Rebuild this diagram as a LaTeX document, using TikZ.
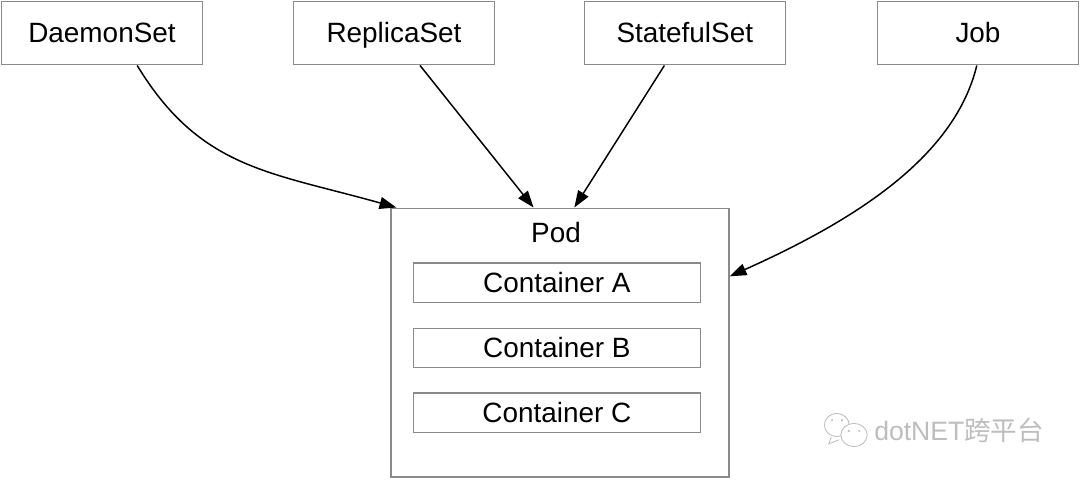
\documentclass[tikz,border=0pt]{standalone}
\usepackage{fontspec}
\setmainfont{Liberation Sans}
\newfontfamily\cjkfont{Noto Sans CJK SC}
\usepackage{xcolor}
\usetikzlibrary{arrows.meta, positioning, calc}
\definecolor{boxgray}{HTML}{8A8A8A}
\definecolor{markgray}{HTML}{BDBDBD}
\tikzset{
  ctrlbox/.style={draw=boxgray, line width=0.95pt, minimum width=5.02cm, minimum height=1.59cm},
  podbox/.style={draw=boxgray, line width=0.95pt, minimum width=8.45cm, minimum height=6.72cm},
  contbox/.style={draw=boxgray, line width=0.95pt, minimum width=7.17cm, minimum height=0.98cm},
  link/.style={-{Triangle[length=0.42cm, width=0.3cm]}, line width=1.05pt, black}
}

\begin{document}
\begin{tikzpicture}[every node/.style={font=\fontsize{19.85}{23}\selectfont, inner sep=0pt,
    text height=18pt, text depth=4pt}]

\useasboundingbox (0,0) rectangle (27,11.975);

%% Controllers
\foreach \nm/\lab/\x in {daemonset/DaemonSet/2.55, replicaset/ReplicaSet/9.85,
                         statefulset/StatefulSet/17.12, job/Job/24.45}{
  \node[ctrlbox] (\nm) at (\x,11.15) {\lab};
}

%% Pod
\node[podbox] (pod) at (14.0,3.41) {};
\node (podname) at (13.9,6.15) {Pod};

%% Containers
\foreach \nm/\lab/\y in {conta/Container A/4.91, contb/Container B/3.275, contc/Container C/1.66}{
  \node[contbox] (\nm) at (13.92,\y) {\lab};
}

%% Links
\draw[link] ([xshift=0.88cm]daemonset.south)
  .. controls (5.0,7.75) and (6.75,7.675) .. ([xshift=0.15cm]pod.north west);
\draw[link] ([xshift=0.65cm]replicaset.south) -- ([xshift=3.58cm]pod.north west);
\draw[link] ([xshift=-0.51cm]statefulset.south) -- ([xshift=4.6cm]pod.north west);
\draw[link] ([xshift=-0.03cm]job.south)
  .. controls (23.875,8.1) and (21.5,6.525) .. ([yshift=-1.72cm]pod.north east);

%% Watermark
\draw[markgray, line width=0.6pt] (20.78,1.05) -- (20.72,0.88) -- (20.98,0.98);
\draw[markgray, line width=0.6pt, fill=white] (20.92,1.35) ellipse (0.31cm and 0.29cm);
\draw[markgray, line width=0.6pt, fill=white] (21.35,1.1) ellipse (0.33cm and 0.29cm);
\fill[markgray] (20.8,1.47) circle (0.03cm) (21.05,1.47) circle (0.03cm)
  (21.22,1.2) circle (0.03cm) (21.48,1.2) circle (0.03cm);
\node[markgray, font=\fontsize{18.9}{22}\selectfont, anchor=west] (mark) at (21.85,1.2)
  {dotNET{\cjkfont 跨平台}};

\end{tikzpicture}
\end{document}
